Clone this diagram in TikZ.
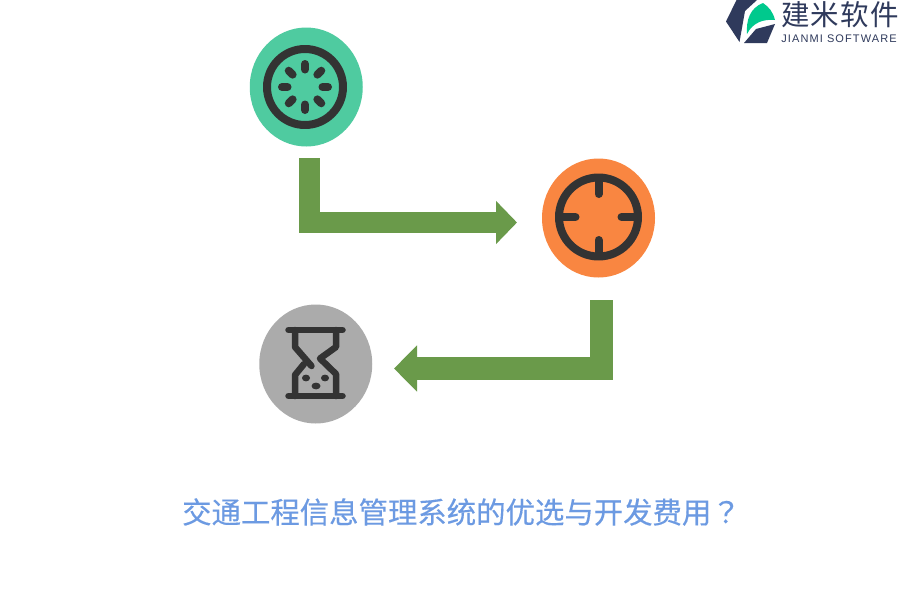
\documentclass[tikz,border=0pt]{standalone}
\usepackage{fontspec}
\usetikzlibrary{shapes.geometric,arrows.meta,calc}
\newfontfamily\cjkfont[FakeBold=0.35]{Noto Sans CJK SC}
\newfontfamily\cjkpunct[FakeBold=0.35]{Noto Sans CJK TC}
\newfontfamily\logolatin[LetterSpace=10]{Liberation Sans}
\newfontfamily\logocjk[LetterSpace=4.5]{Noto Sans CJK SC}
\definecolor{icondark}{HTML}{333333}
\definecolor{arrowgreen}{HTML}{6A9A4A}
\definecolor{titleblue}{HTML}{6C9AE2}
\definecolor{logonavy}{HTML}{2F3A5C}
\definecolor{logogreen}{HTML}{00C98D}
\tikzset{
  badge/.style={draw=none,ellipse,inner sep=0pt,minimum width=113pt,minimum height=119pt},
  iconline/.style={draw=icondark,line width=8pt,line cap=round,line join=round},
  glassline/.style={iconline,line width=6.5pt},
  fatarrow/.style={draw=arrowgreen,line join=miter},
}
\begin{document}
\begin{tikzpicture}[x=1pt,y=-1pt]
\useasboundingbox (0,0) rectangle (900,600);
\fill[white] (0,0) rectangle (900,600);
% badges
\node[badge,fill={rgb,255:red,79;green,203;blue,160}] (start) at (306.25,87) {};
\node[badge,fill={rgb,255:red,249;green,134;blue,65}] (target) at (598.5,218) {};
\node[badge,fill={rgb,255:red,171;green,171;blue,171}] (wait) at (315.75,364) {};
% connectors
\coordinate (a1) at (309.5,158);
\coordinate (a2) at (309.5,222.5);
\coordinate (a3) at (517,222.5);
\coordinate (b1) at (601.5,300);
\coordinate (b2) at (601.5,368.5);
\coordinate (b3) at (394,368.5);
\draw[fatarrow,line width=21pt,-{Triangle[width=42pt,length=21pt]}] (a1) -- (a2) -- (a3);
\draw[fatarrow,line width=23pt,-{Triangle[width=45pt,length=23pt]}] (b1) -- (b2) -- (b3);
% icon 1
\draw[iconline] (305,87) circle[radius=38];
\foreach \a in {0,45,...,315}{
  \draw[iconline] ($(305,87)+(\a:17.5)$) -- ($(305,87)+(\a:23)$);
}
% icon 2
\draw[iconline] (598.5,217) circle[radius=39.5];
\foreach \a in {0,90,180,270}{
  \draw[iconline] ($(598.5,217)+(\a:39)$) -- ($(598.5,217)+(\a:23)$);
}
% icon 3
\draw[glassline] (288.5,330) -- (342.5,330);
\draw[glassline] (288.5,396) -- (342.5,396);
\draw[glassline] (295,330) -- (295,347) -- (311.5,366);
\draw[glassline] (336,330) -- (336,347) -- (320,358.5) -- (336,374) -- (336,396);
\draw[glassline] (295,396) -- (295,375) -- (304,364);
\fill[icondark] (306,378) ellipse[x radius=4,y radius=3.4];
\fill[icondark] (325,378) ellipse[x radius=4,y radius=3.4];
\fill[icondark] (316,386) ellipse[x radius=4.5,y radius=3.4];
% logo
\fill[logonavy] (726,21.5) -- (736.5,0) -- (757,0) -- (745,11) -- (739.5,42) -- cycle;
\fill[logonavy] (775,24) -- (767,43) -- (744,43) -- (756,29) -- cycle;
\fill[logogreen] (747,34) .. controls (746,20) and (750,8) .. (763,3) .. controls (769,7) and (773,12) .. (775,20) .. controls (764,19) and (753,22) .. (747,34) -- cycle;
\node[inner sep=0pt,anchor=center,text=logonavy] (logotext) at (840,14.5) {\logocjk\fontsize{28.5}{30}\selectfont 建米软件};
\node[inner sep=0pt,anchor=center,text=logonavy] (logosub) at (839,38.5) {\logolatin\fontsize{11}{12}\selectfont JIANMI SOFTWARE};
% title
\node[inner sep=0pt,anchor=center,text=titleblue] (title) at (461.5,512) {\cjkfont\fontsize{29.4}{32}\selectfont 交通工程信息管理系统的优选与开发费用\cjkpunct ？};
\end{tikzpicture}
\end{document}
